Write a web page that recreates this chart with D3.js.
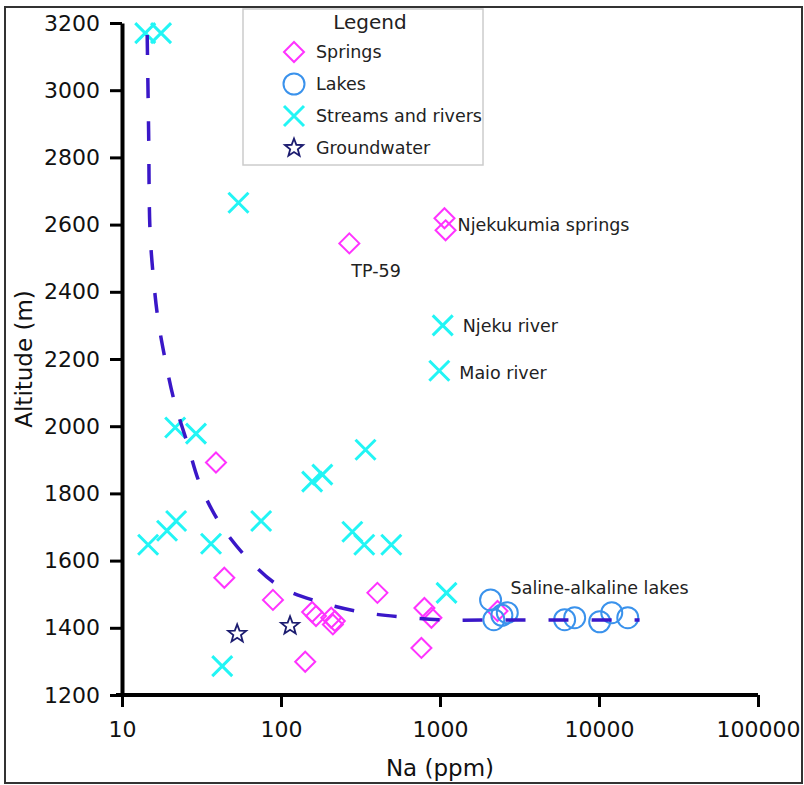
<!DOCTYPE html>
<html>
<head>
<meta charset="utf-8">
<script src="https://cdn.jsdelivr.net/npm/d3@7"></script>
<style>
  body { margin: 0; background: #fff; }
  svg { font-family: "DejaVu Sans", Verdana, sans-serif; }
</style>
</head>
<body>
<div id="chart-area"></div>
<script>
// Na (ppm) vs altitude (m)
var springsNa  = [1067, 1084, 269, 39, 44, 89, 404, 142, 157, 166, 207, 218, 212, 798, 883, 764, 2300];
var springsAlt = [2619, 2583, 2544, 1892, 1549, 1483, 1504, 1299, 1447, 1435, 1430, 1420, 1410, 1459, 1430, 1340, 1450];

var lakesNa  = [2080, 2180, 2450, 2650, 6080, 7030, 10100, 12030, 15170];
var lakesAlt = [1483, 1424, 1437, 1445, 1424, 1430, 1418, 1445, 1430];

var streamsNa  = [14, 17.6, 54, 1040, 990, 21.6, 29.2, 14.6, 19.2, 21.9, 36.3, 75, 42.7, 340, 157, 182, 281, 334, 494, 1099];
var streamsAlt = [3170, 3170, 2665, 2300, 2165, 1996, 1978, 1647, 1689, 1718, 1650, 1718, 1286, 1930, 1835, 1856, 1686, 1647, 1647, 1504];

var groundNa  = [53, 114];
var groundAlt = [1382, 1406];

// fitted trend (dashed)
var trendNa  = [14.4, 14.7, 15.0, 15.7, 16.8, 18.6, 21.2, 25.7, 31, 41.4, 62, 99, 174, 319, 580, 1100, 2040, 5600, 18000];
var trendAlt = [3164, 2880, 2584, 2450, 2322, 2203, 2079, 1951, 1826, 1710, 1605, 1522, 1477, 1447, 1432, 1423, 1423, 1423, 1423];

var xTicks = [10, 100, 1000, 10000, 100000];
var yTicks = [1200, 1400, 1600, 1800, 2000, 2200, 2400, 2600, 2800, 3000, 3200];

var notes = [
    {text: "Njekukumia springs", na: 1084, alt: 2600, dx: 12, dy: 0},
    {text: "TP-59", na: 269, alt: 2544, dx: 2, dy: 27},
    {text: "Njeku river", na: 1040, alt: 2300, dx: 20, dy: 0},
    {text: "Maio river", na: 990, alt: 2165, dx: 20, dy: 2},
    {text: "Saline-alkaline lakes", na: 2080, alt: 1483, dx: 20, dy: -12}
];

var W = 804, H = 785;
var svg = d3.select("#chart-area").append("svg")
    .attr("width", W)
    .attr("height", H);

svg.append("rect")
    .attr("x", 5).attr("y", 7)
    .attr("width", 797).attr("height", 776)
    .attr("fill", "#fff")
    .attr("stroke", "#333")
    .attr("stroke-width", 2);

var x = d3.scaleLog().domain([10, 100000]).range([122, 758]);
var y = d3.scaleLinear().domain([1200, 3200]).range([695, 23]);

function symbolPath(type) {
    if (type == "diamond") {
        return "M0,-10L10,0L0,10L-10,0Z";
    } else if (type == "x") {
        return "M-10,-10L10,10M-10,10L10,-10";
    } else if (type == "star") {
        var p = [];
        for (var i = 0; i < 10; i++) {
            var r = (i % 2 == 0) ? 9.5 : 4;
            var a = -Math.PI / 2 + i * Math.PI / 5;
            p.push([r * Math.cos(a), r * Math.sin(a)]);
        }
        return "M" + p.join("L") + "Z";
    }
    return d3.arc()({innerRadius: 0, outerRadius: 10.5, startAngle: 0, endAngle: 2 * Math.PI});
}

var styles = {
    diamond: {stroke: "#ff33ff", width: 2, fill: "none"},
    circle: {stroke: "#3a92ec", width: 2, fill: "none"},
    x: {stroke: "#22f5f5", width: 3, fill: "none"},
    star: {stroke: "#1c1c70", width: 1.8, fill: "#fff"}
};

function drawSeries(na, alt, type) {
    var st = styles[type];
    svg.append("g").selectAll("path")
        .data(na)
        .enter()
        .append("path")
            .attr("transform", (d, i) => { return "translate(" + x(d) + "," + y(alt[i]) + ")"; })
            .attr("d", symbolPath(type))
            .attr("fill", st.fill)
            .attr("stroke", st.stroke)
            .attr("stroke-width", st.width);
}

// axes
var xAxis = d3.axisBottom(x)
    .tickValues(xTicks)
    .tickFormat(d3.format("d"))
    .tickSize(12)
    .tickSizeOuter(0)
    .tickPadding(14);

var yAxis = d3.axisLeft(y)
    .tickValues(yTicks)
    .tickFormat(d3.format("d"))
    .tickSize(12)
    .tickSizeOuter(0)
    .tickPadding(10);

var gx = svg.append("g").attr("transform", "translate(0,695)").call(xAxis);
var gy = svg.append("g").attr("transform", "translate(122,0)").call(yAxis);

[gx, gy].forEach((g) => {
    g.select(".domain").attr("stroke", "#000").attr("stroke-width", 4);
    g.selectAll(".tick line").attr("stroke", "#000").attr("stroke-width", 3);
    g.selectAll(".tick text").attr("fill", "#111").style("font-size", "22px")
        .style("font-family", "DejaVu Sans, Verdana, sans-serif");
});
gx.select(".domain").attr("d", "M116,0H758");

svg.append("text")
    .attr("x", 440).attr("y", 776)
    .attr("text-anchor", "middle")
    .attr("fill", "#111")
    .style("font-size", "23px")
    .text("Na (ppm)");

svg.append("text")
    .attr("transform", "translate(32,359) rotate(-90)")
    .attr("text-anchor", "middle")
    .attr("fill", "#111")
    .style("font-size", "23px")
    .text("Altitude (m)");

// points
drawSeries(streamsNa, streamsAlt, "x");
drawSeries(springsNa, springsAlt, "diamond");
drawSeries(lakesNa, lakesAlt, "circle");
drawSeries(groundNa, groundAlt, "star");

// trend line
var line = d3.line()
    .x((d, i) => { return x(d); })
    .y((d, i) => { return y(trendAlt[i]); })
    .curve(d3.curveCatmullRom.alpha(0.5));

svg.append("path")
    .attr("d", line(trendNa))
    .attr("fill", "none")
    .attr("stroke", "#3a17c8")
    .attr("stroke-width", 3.5)
    .attr("stroke-dasharray", "20,23");

// annotations
svg.append("g").selectAll("text")
    .data(notes)
    .enter()
    .append("text")
        .attr("x", (d) => { return x(d.na) + d.dx; })
        .attr("y", (d) => { return y(d.alt) + d.dy; })
        .attr("dy", "0.35em")
        .attr("fill", "#222")
        .style("font-size", "17.5px")
        .text((d) => { return d.text; });

// legend
var legendNames = ["Springs", "Lakes", "Streams and rivers", "Groundwater"];
var legendTypes = ["diamond", "circle", "x", "star"];

var lg = svg.append("g");
lg.append("rect")
    .attr("x", 243).attr("y", 9)
    .attr("width", 240).attr("height", 156)
    .attr("fill", "#fff")
    .attr("stroke", "#ccc")
    .attr("stroke-width", 1.5);

lg.append("text")
    .attr("x", 370).attr("y", 22)
    .attr("dy", "0.35em")
    .attr("text-anchor", "middle")
    .attr("fill", "#222")
    .style("font-size", "20px")
    .text("Legend");

legendNames.forEach((name, i) => {
    var st = styles[legendTypes[i]];
    var yy = 52 + i * 32;
    lg.append("path")
        .attr("transform", "translate(294," + yy + ")")
        .attr("d", symbolPath(legendTypes[i]))
        .attr("fill", st.fill)
        .attr("stroke", st.stroke)
        .attr("stroke-width", st.width);
    lg.append("text")
        .attr("x", 316).attr("y", yy)
        .attr("dy", "0.35em")
        .attr("fill", "#222")
        .style("font-size", "17.5px")
        .text(name);
});
</script>
</body>
</html>
